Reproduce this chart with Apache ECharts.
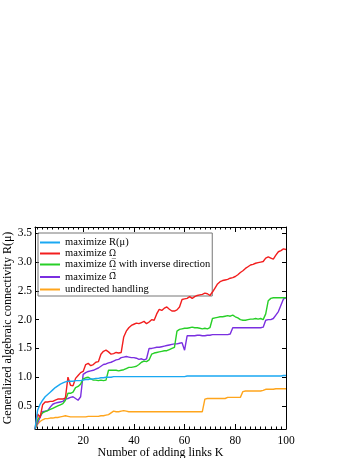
<!DOCTYPE html>
<html>
<head>
<meta charset="UTF-8">
<title>Generalized algebraic connectivity</title>
<style>
  html,body{margin:0;height:100%;width:100%;background:#fff}
  #main{width:354px;height:458px}
</style>
<script src="https://cdn.jsdelivr.net/npm/echarts@6/dist/echarts.min.js"></script>
</head>
<body>
<div id="main"></div>
<script>
// number of added links K = 1..100
var K = [];
for (var i = 1; i <= 100; i++) K.push(i);

var yTicks = [0.5, 1.0, 1.5, 2.0, 2.5, 3.0, 3.5];
var names = ['maximize R(\u03bc)', 'maximize \u03a9\u0332', 'maximize \u03a9\u0332 with inverse direction', 'maximize \u03a9\u0304', 'undirected handling'];
var colors = ['#1aa8f2', '#f21e1e', '#27cf27', '#7a2fe0', '#ffa51c'];

// values, K = 1..100
var maxR = [
  0.10,0.42,0.53,0.60,0.66,0.70,0.74,0.78,0.82,0.85,
  0.88,0.90,0.92,0.93,0.93,0.93,0.94,0.94,0.94,0.95,
  0.96,0.96,0.97,0.97,0.98,0.98,0.99,0.99,1.00,1.00,
  1.00,1.01,1.01,1.01,1.01,1.01,1.01,1.01,1.01,1.01,
  1.01,1.01,1.01,1.01,1.01,1.01,1.01,1.01,1.01,1.01,
  1.01,1.01,1.01,1.01,1.01,1.01,1.01,1.01,1.01,1.01,
  1.02,1.02,1.02,1.02,1.02,1.02,1.02,1.02,1.02,1.02,
  1.02,1.02,1.02,1.02,1.02,1.02,1.02,1.02,1.02,1.02,
  1.02,1.02,1.02,1.02,1.02,1.02,1.02,1.02,1.02,1.02,
  1.02,1.02,1.02,1.02,1.02,1.02,1.02,1.02,1.03,1.03
];
var maxOmega = [
  0.10,0.36,0.30,0.52,0.57,0.57,0.58,0.58,0.60,0.62,
  0.62,0.62,0.64,1.00,0.86,0.85,0.98,1.03,1.08,1.10,
  1.22,1.24,1.20,1.22,1.26,1.27,1.40,1.45,1.47,1.44,
  1.40,1.41,1.43,1.42,1.43,1.70,1.80,1.86,1.90,1.92,
  1.94,1.93,1.95,1.97,1.93,1.96,2.00,1.99,2.10,2.18,
  2.16,2.20,2.22,2.18,2.15,2.15,2.17,2.22,2.35,2.36,
  2.37,2.40,2.37,2.40,2.42,2.43,2.44,2.46,2.45,2.42,
  2.48,2.55,2.62,2.66,2.68,2.69,2.70,2.72,2.73,2.75,
  2.78,2.82,2.85,2.89,2.92,2.95,2.96,2.98,2.99,3.00,
  3.01,3.07,3.09,3.07,3.05,3.12,3.18,3.20,3.23,3.22
];
var maxOmegaInv = [
  0.10,0.25,0.33,0.38,0.40,0.42,0.44,0.46,0.48,0.50,
  0.52,0.54,0.60,0.72,0.72,0.74,0.82,0.84,0.88,0.97,
  0.99,1.00,0.97,0.95,0.95,0.94,0.95,0.94,0.95,1.12,
  1.12,1.12,1.12,1.11,1.12,1.13,1.15,1.17,1.17,1.18,
  1.19,1.22,1.26,1.28,1.27,1.30,1.40,1.42,1.43,1.44,
  1.45,1.46,1.46,1.48,1.50,1.52,1.80,1.83,1.84,1.85,
  1.85,1.86,1.87,1.86,1.86,1.85,1.84,1.85,1.84,1.86,
  2.02,2.03,2.04,2.05,2.05,2.06,2.07,2.06,2.08,2.05,
  2.03,2.00,1.99,1.99,2.00,2.01,2.01,2.02,2.01,2.02,
  2.00,2.10,2.33,2.37,2.38,2.38,2.38,2.38,2.38,2.38
];
var maxOmegaBar = [
  0.10,0.20,0.30,0.40,0.41,0.42,0.48,0.53,0.55,0.56,
  0.57,0.58,0.62,0.63,0.65,0.66,0.63,0.60,0.66,1.05,
  1.08,1.10,1.11,1.12,1.14,1.16,1.19,1.22,1.23,1.25,
  1.26,1.28,1.30,1.31,1.34,1.35,1.36,1.35,1.34,1.34,
  1.33,1.31,1.32,1.30,1.32,1.50,1.50,1.51,1.52,1.52,
  1.53,1.54,1.55,1.56,1.57,1.58,1.58,1.59,1.60,1.47,
  1.72,1.72,1.72,1.72,1.73,1.73,1.72,1.72,1.73,1.73,
  1.74,1.74,1.74,1.74,1.74,1.74,1.74,1.75,1.86,1.86,
  1.86,1.86,1.86,1.86,1.86,1.86,1.86,1.86,1.86,1.86,
  1.87,1.99,2.00,2.00,2.02,2.08,2.14,2.25,2.36,2.38
];
var undirected = [
  0.10,0.18,0.23,0.26,0.28,0.28,0.29,0.29,0.30,0.30,
  0.31,0.32,0.33,0.32,0.31,0.31,0.31,0.31,0.31,0.31,
  0.31,0.32,0.32,0.32,0.32,0.32,0.33,0.33,0.34,0.35,
  0.38,0.41,0.40,0.40,0.41,0.42,0.41,0.40,0.40,0.40,
  0.40,0.40,0.40,0.40,0.40,0.40,0.40,0.40,0.40,0.40,
  0.40,0.40,0.40,0.40,0.40,0.40,0.40,0.40,0.40,0.40,
  0.40,0.40,0.40,0.40,0.40,0.40,0.40,0.62,0.63,0.63,
  0.63,0.63,0.63,0.63,0.63,0.63,0.65,0.65,0.65,0.65,
  0.65,0.65,0.75,0.76,0.76,0.76,0.76,0.76,0.76,0.76,
  0.77,0.79,0.79,0.79,0.79,0.80,0.80,0.80,0.80,0.80
];

var values = [maxR, maxOmega, maxOmegaInv, maxOmegaBar, undirected];

var font = 'Liberation Serif';
var black = '#000';

function isMajor(idx) { return K[idx] % 20 === 0; }
function isMinor(idx) { return K[idx] % 2 === 0; }

function xAxisPart(pos, major) {
  return {
    type: 'category',
    data: K,
    boundaryGap: false,
    position: pos,
    axisLine: { show: major, lineStyle: { color: black, width: 1 } },
    axisTick: { show: true, inside: true, length: major ? 5 : 2.5, interval: major ? isMajor : isMinor, lineStyle: { color: black, width: 1 } },
    axisLabel: { show: major && pos === 'bottom', interval: isMajor, color: black, fontFamily: font, fontSize: 11.5, margin: 6 },
    splitLine: { show: false }
  };
}

var xAxes = [xAxisPart('bottom', true), xAxisPart('bottom', false), xAxisPart('top', true), xAxisPart('top', false)];
xAxes[0].name = 'Number of adding links K';
xAxes[0].nameLocation = 'middle';
xAxes[0].nameGap = 17.5;
xAxes[0].nameMoveOverlap = false;
xAxes[0].nameTextStyle = { color: black, fontFamily: font, fontSize: 12 };

function yAxisPart(pos) {
  return {
    type: 'value',
    position: pos,
    min: 0.1,
    max: 3.61,
    axisLine: { show: true, lineStyle: { color: black, width: 1 } },
    axisTick: { show: true, inside: true, length: 4, customValues: yTicks, lineStyle: { color: black } },
    axisLabel: { show: pos === 'left', customValues: yTicks, color: black, fontFamily: font, fontSize: 11.5, margin: 3,
      formatter: function (v) { return v.toFixed(1); } },
    splitLine: { show: false }
  };
}

var yAxes = [yAxisPart('left'), yAxisPart('right')];
yAxes[0].name = 'Generalized algebraic connectivity R(\u03bc)';
yAxes[0].nameLocation = 'middle';
yAxes[0].nameGap = 21;
yAxes[0].nameMoveOverlap = false;
yAxes[0].nameTextStyle = { color: black, fontFamily: font, fontSize: 12 };

var series = names.map(function (n, i) {
  return {
    name: n,
    type: 'line',
    data: values[i],
    xAxisIndex: 0,
    yAxisIndex: 0,
    showSymbol: false,
    symbol: 'none',
    color: colors[i],
    lineStyle: { width: 1.4, color: colors[i] },
    z: 5 - i
  };
});

// the omega glyphs carry combining marks, drawn with a font that places them
function legendText(name) {
  return name
    .replace('\u03a9\u0332', '{u|\u03a9\u0332}')
    .replace('\u03a9\u0304', '{b|\u03a9\u0304}');
}

var chart = echarts.init(document.getElementById('main'));
chart.setOption({
  animation: false,
  backgroundColor: '#fff',
  grid: { left: 35, right: 68, top: 227, bottom: 29, outerBoundsMode: 'none', containLabel: false },
  legend: {
    orient: 'vertical',
    left: 38,
    top: 233,
    data: names,
    icon: 'rect',
    itemWidth: 20,
    itemHeight: 2,
    itemGap: 0,
    padding: [4, 2, 1, 2],
    borderColor: '#777',
    borderWidth: 1,
    formatter: legendText,
    textStyle: {
      color: black, fontFamily: font, fontSize: 10.5, lineHeight: 10.5,
      rich: {
        u: { fontFamily: 'DejaVu Serif', fontSize: 8.5, lineHeight: 10.5, color: black },
        b: { fontFamily: 'DejaVu Serif', fontSize: 8.5, lineHeight: 14, color: black }
      }
    }
  },
  xAxis: xAxes,
  yAxis: yAxes,
  series: series
});
</script>
</body>
</html>
